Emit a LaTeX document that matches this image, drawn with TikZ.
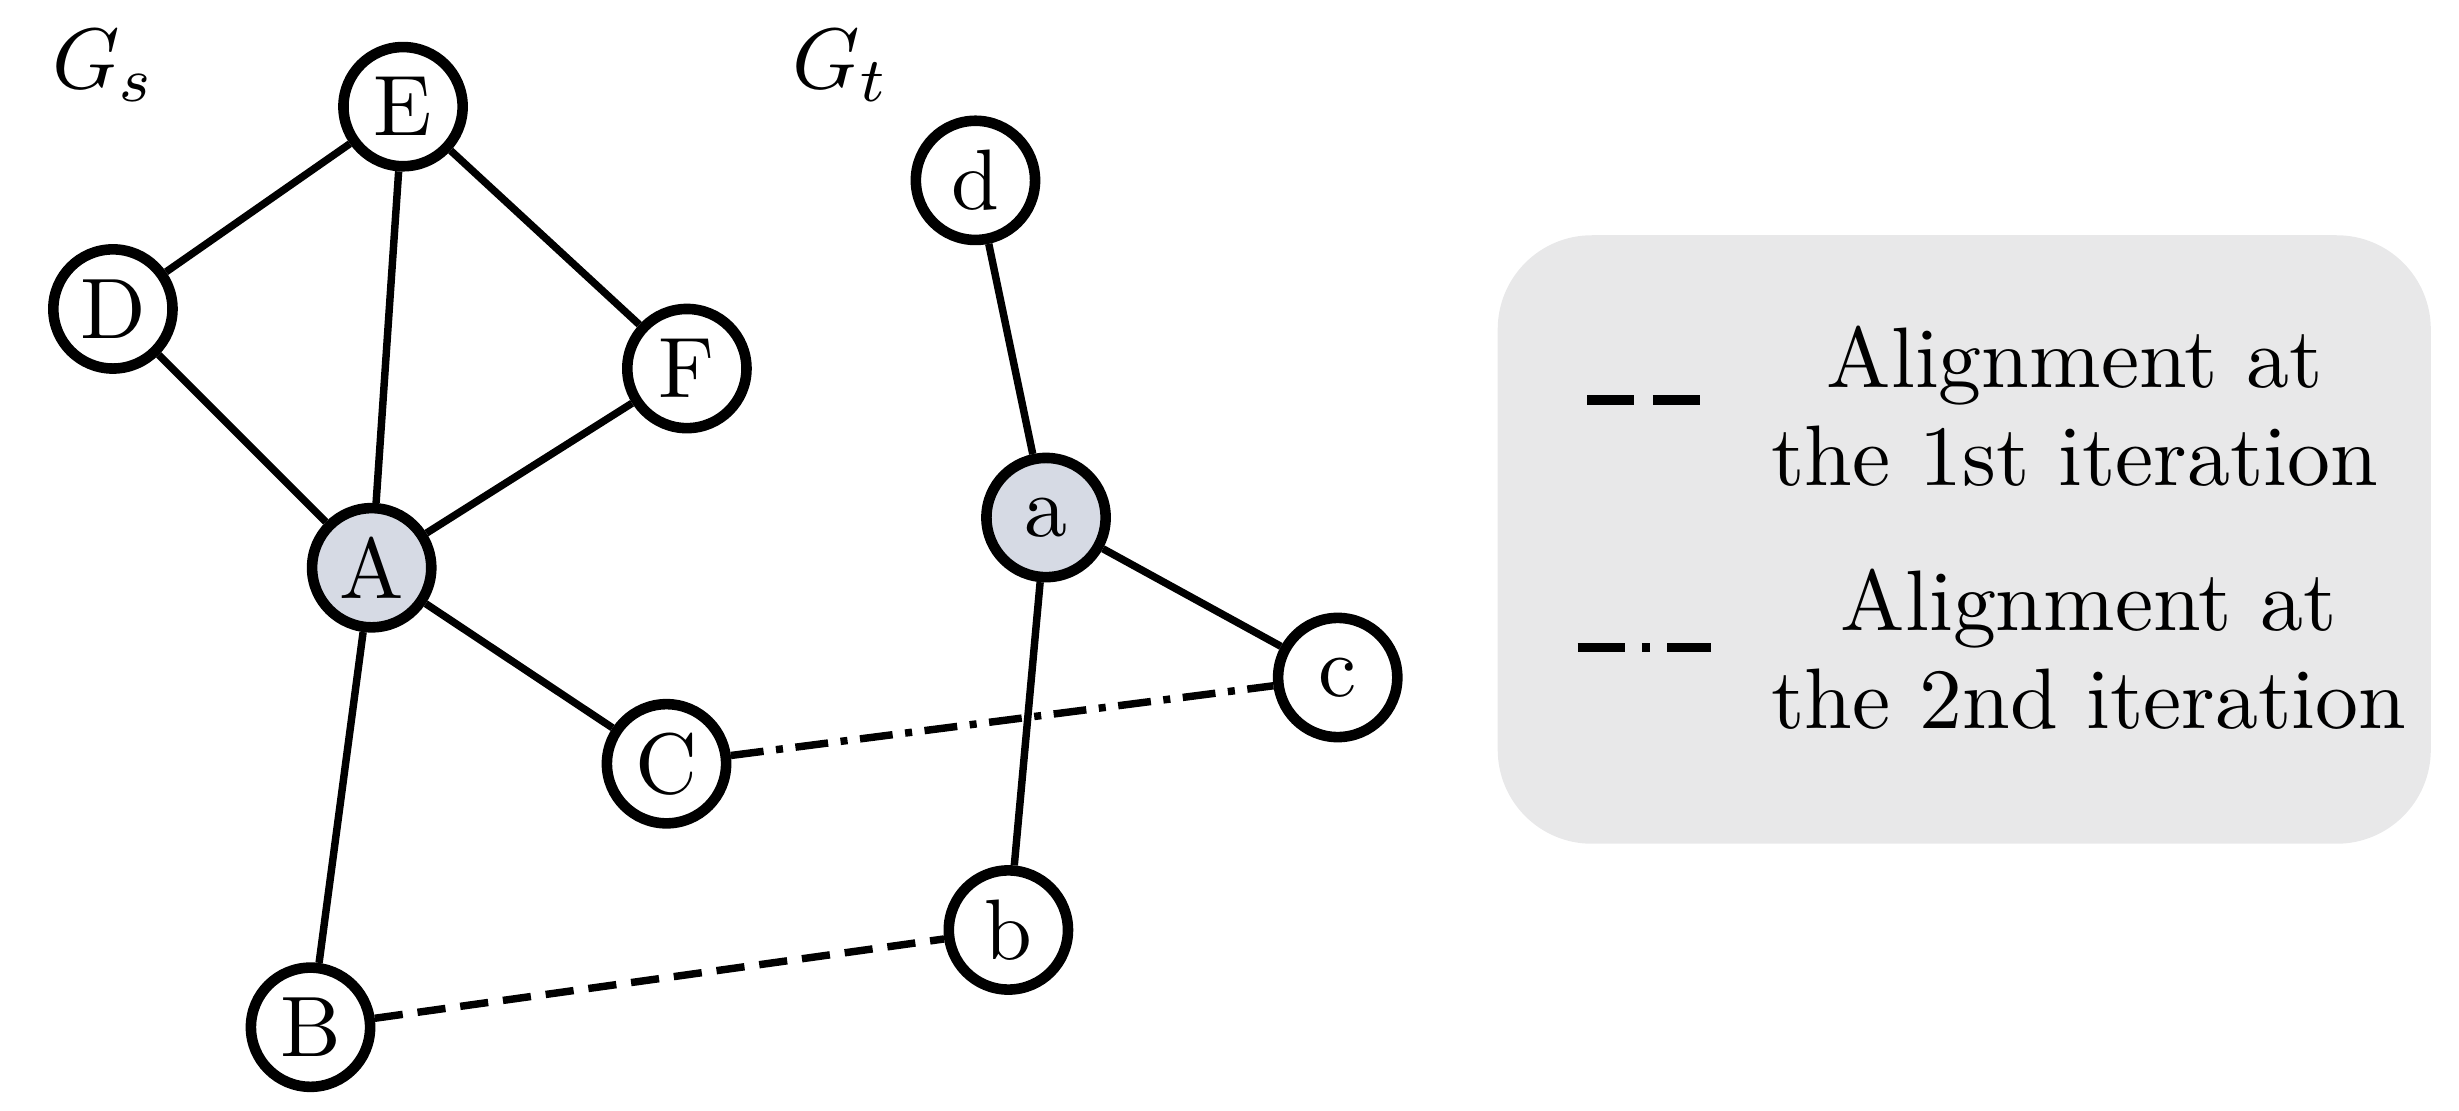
\documentclass[tikz,border=0pt]{standalone}
\usepackage{fontspec}
\definecolor{nodefill}{RGB}{214,218,228}
\definecolor{legfill}{RGB}{232,232,233}
\begin{document}
\begin{tikzpicture}[x=0.2pt,y=-0.2pt,
  bigfont/.style={font=\fontsize{10.95}{12.4}\selectfont},
  vtx/.style={circle,draw=black,line width=1.35pt,fill=white,minimum size=15.2pt,inner sep=0pt,bigfont},
  hub/.style={vtx,fill=nodefill},
  edge/.style={line width=0.95pt},
  firstit/.style={line width=0.95pt,dash pattern=on 3.6pt off 1.9pt},
  secondit/.style={line width=0.95pt,dash pattern=on 4.2pt off 1.6pt on 0.9pt off 1.6pt},
  legtext/.style={align=center,bigfont,inner sep=0pt}]
\useasboundingbox (0,0) rectangle (1568,708.4);
% legend box
\fill[legfill,rounded corners=12pt] (955,150) rectangle (1550,538);
% graph labels
\node[bigfont] (gs) at (66,42) {$G_s$};
\node[bigfont] (gt) at (536,42) {$G_t$};
% source graph
\node[vtx] (E) at (257,68) {E};
\node[vtx] (D) at (72,197) {D};
\node[vtx] (F) at (438,235) {F};
\node[hub] (A) at (237,362) {A};
\node[vtx] (C) at (425,487) {C};
\node[vtx] (B) at (198,655) {B};
% target graph
\node[vtx] (d) at (622,115) {d};
\node[hub] (a) at (667,330) {a};
\node[vtx] (c) at (853,432) {c};
\node[vtx] (b) at (643,593) {b};
% edges
\draw[edge] (D) -- (E);
\draw[edge] (E) -- (F);
\draw[edge] (E) -- (A);
\draw[edge] (D) -- (A);
\draw[edge] (F) -- (A);
\draw[edge] (A) -- (C);
\draw[edge] (A) -- (B);
\draw[edge] (d) -- (a);
\draw[edge] (a) -- (c);
\draw[edge] (a) -- (b);
\draw[firstit] (B) -- (b);
\draw[secondit] (C) -- (c);
% legend
\coordinate (l1a) at (1012,255);
\coordinate (l1b) at (1084,255);
\coordinate (l2a) at (1006,413);
\coordinate (l2b) at (1091,413);
\draw[line width=1.2pt,dash pattern=on 6pt off 2.4pt] (l1a) -- (l1b);
\draw[line width=1.2pt,dash pattern=on 6pt off 2.2pt on 1pt off 2.2pt] (l2a) -- (l2b);
\node[legtext] (t1) at (1323,259) {Alignment at\\the 1st iteration};
\node[legtext] (t2) at (1332,414) {Alignment at\\the 2nd iteration};
\end{tikzpicture}
\end{document}
